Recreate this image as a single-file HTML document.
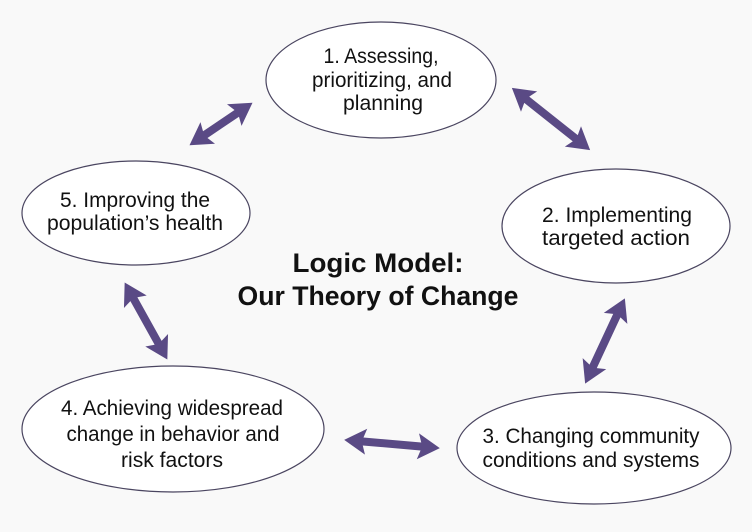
<!DOCTYPE html>
<html><head><meta charset="utf-8"><style>
html,body{margin:0;padding:0;background:#f9f9f9;}
svg{display:block;}
text{font-family:"Liberation Sans",sans-serif;fill:#111;}
</style></head><body>
<svg width="752" height="532" viewBox="0 0 752 532" xmlns="http://www.w3.org/2000/svg">
<rect width="752" height="532" fill="#f9f9f9"/>
<g fill="#fff" stroke="#4a4560" stroke-width="1.2">
<ellipse cx="381" cy="80" rx="115" ry="58"/>
<ellipse cx="616" cy="226" rx="114" ry="57"/>
<ellipse cx="594" cy="448" rx="137" ry="56"/>
<ellipse cx="173" cy="429" rx="151" ry="63"/>
<ellipse cx="136" cy="213" rx="114" ry="52"/>
</g>
<g fill="#5a4a85">
<polygon transform="translate(221,124) rotate(-34)" points="-38,0 -16,-13 -19,-4 19,-4 16,-13 38,0 16,13 19,4 -19,4 -16,13"/>
<polygon transform="translate(551,119) rotate(38.5)" points="-50,0 -28,-13 -31,-4 31,-4 28,-13 50,0 28,13 31,4 -31,4 -28,13"/>
<polygon transform="translate(605,341) rotate(115)" points="-47,0 -25,-13 -28,-4 28,-4 25,-13 47,0 25,13 28,4 -28,4 -25,13"/>
<polygon transform="translate(392,444) rotate(5)" points="-48,0 -26,-13 -29,-4 29,-4 26,-13 48,0 26,13 29,4 -29,4 -26,13"/>
<polygon transform="translate(146,321) rotate(61)" points="-44,0 -22,-13 -25,-4 25,-4 22,-13 44,0 22,13 25,4 -25,4 -22,13"/>
</g>
<g font-size="21" text-anchor="middle">
<text x="381" y="63" textLength="115" lengthAdjust="spacingAndGlyphs">1. Assessing,</text>
<text x="382" y="87" textLength="140" lengthAdjust="spacingAndGlyphs">prioritizing, and</text>
<text x="383" y="110" textLength="80" lengthAdjust="spacingAndGlyphs">planning</text>
<text x="617" y="222" textLength="150" lengthAdjust="spacingAndGlyphs">2. Implementing</text>
<text x="616" y="245" textLength="148" lengthAdjust="spacingAndGlyphs">targeted action</text>
<text x="591" y="443" textLength="217" lengthAdjust="spacingAndGlyphs">3. Changing community</text>
<text x="591" y="467" textLength="217" lengthAdjust="spacingAndGlyphs">conditions and systems</text>
<text x="172" y="415" textLength="222" lengthAdjust="spacingAndGlyphs">4. Achieving widespread</text>
<text x="173" y="441" textLength="213" lengthAdjust="spacingAndGlyphs">change in behavior and</text>
<text x="172" y="467" textLength="102" lengthAdjust="spacingAndGlyphs">risk factors</text>
<text x="135" y="207" textLength="150" lengthAdjust="spacingAndGlyphs">5. Improving the</text>
<text x="135" y="230" textLength="176" lengthAdjust="spacingAndGlyphs">population’s health</text>
</g>
<g font-size="27" font-weight="bold" text-anchor="middle">
<text x="378" y="272" textLength="171" lengthAdjust="spacingAndGlyphs">Logic Model:</text>
<text x="378" y="305" textLength="281" lengthAdjust="spacingAndGlyphs">Our Theory of Change</text>
</g>
</svg>
</body></html>
